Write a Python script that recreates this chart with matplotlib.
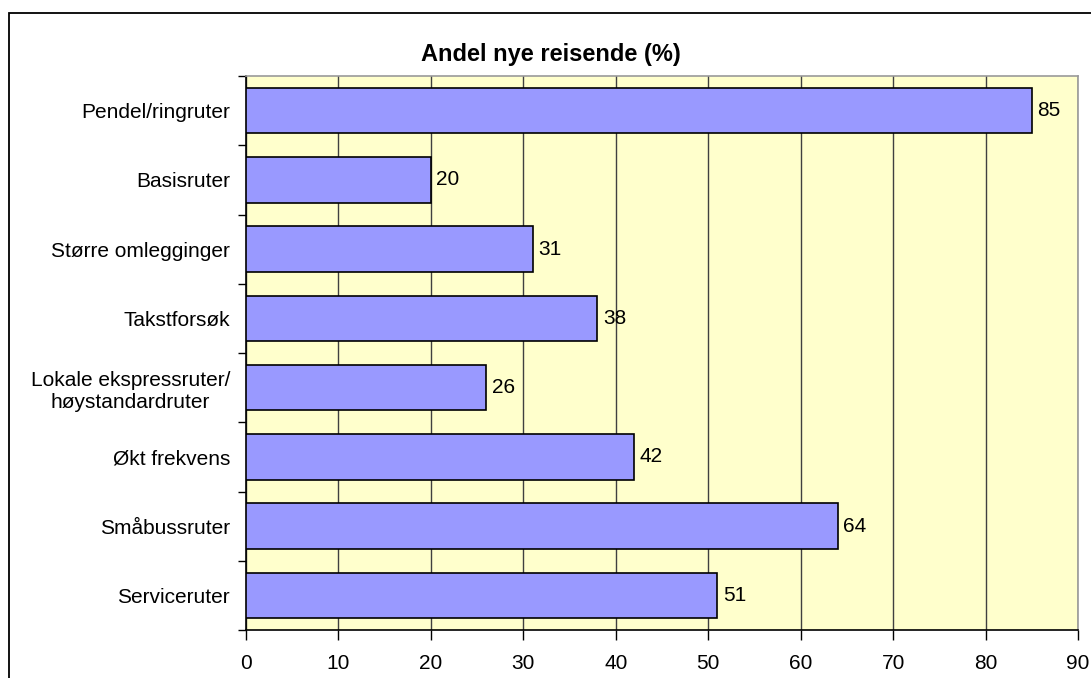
import matplotlib.pyplot as plt
from matplotlib.patches import Rectangle
import numpy as np

plt.rcParams['font.family'] = ['Liberation Sans', 'DejaVu Sans']

categories = ["Pendel/ringruter", "Basisruter", "Større omlegginger", "Takstforsøk",
              "Lokale ekspressruter/\nhøystandardruter", "Økt frekvens",
              "Småbussruter", "Serviceruter"]
values = [85, 20, 31, 38, 26, 42, 64, 51]
xticks = [0, 10, 20, 30, 40, 50, 60, 70, 80, 90]

fig = plt.figure(figsize=(10.91, 6.78), dpi=100)
ax = fig.add_axes([246 / 1091, 1 - 630 / 678, (1078 - 246) / 1091, (630 - 76) / 678])

# outer chart border (only top/left visible)
fig.patches.append(Rectangle((9 / 1091, -0.1), 1.2, 1 - 13 / 678 + 0.1, transform=fig.transFigure,
                             fill=False, edgecolor='black', linewidth=1.3))

y = np.arange(len(categories))
ax.set_facecolor('#FFFFCC')
ax.barh(y, values, height=0.66, color='#9999FF', edgecolor='black', linewidth=1.2, zorder=3)
for yi, v in zip(y, values):
    ax.text(v + 0.6, yi, str(v), va='center', ha='left', fontsize=15, zorder=4)

ax.set_xlim(0, 90)
ax.set_ylim(len(categories) - 0.5, -0.5)
ax.set_xticks(xticks)
ax.set_xticklabels([str(t) for t in xticks], fontsize=15)
ax.set_yticks(y)
ax.set_yticklabels(categories, fontsize=15, multialignment='center')
ax.set_yticks(np.arange(-0.5, len(categories), 1), minor=True)
ax.tick_params(axis='y', which='major', length=0, pad=11.5)
ax.tick_params(axis='y', which='minor', length=6, width=1, direction='out')
ax.tick_params(axis='x', length=7, width=1, direction='out', pad=10)
ax.xaxis.grid(True, color='#404040', linewidth=1, zorder=1)
ax.set_axisbelow(True)

ax.spines['left'].set_color('black')
ax.spines['bottom'].set_color('black')
ax.spines['top'].set_color('#999999')
ax.spines['right'].set_color('#999999')
for s in ax.spines.values():
    s.set_linewidth(1.2)

fig.text(551 / 1091, 1 - 55 / 678, "Andel nye reisende (%)", ha='center', va='center',
         fontsize=17, fontweight='bold')

fig.savefig('out.png', dpi=100)
